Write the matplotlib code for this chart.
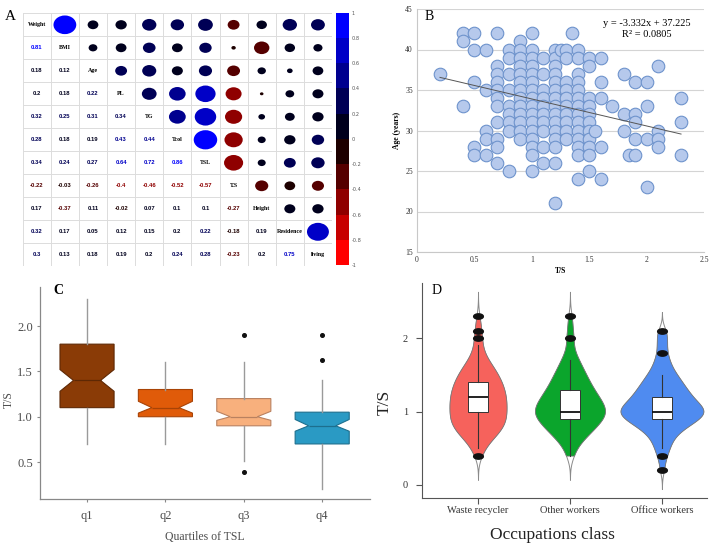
import numpy as np
import matplotlib
matplotlib.use("Agg")
import matplotlib.pyplot as plt
from matplotlib.colors import LinearSegmentedColormap, ListedColormap, BoundaryNorm
from matplotlib.cm import ScalarMappable
from matplotlib.patches import Ellipse
from matplotlib import mlab

SERIF = ["Liberation Serif", "DejaVu Serif"]
SANS = ["Liberation Sans", "DejaVu Sans"]

# ---------------- Panel A data ----------------
corr_vars = ["Weight", "BMI", "Age", "PL", "TG", "Tcol", "TSL", "T.S", "Height", "Residence", "living"]
corr_lower = [
    [],
    [0.81],
    [0.18, 0.12],
    [0.2, 0.18, 0.22],
    [0.32, 0.25, 0.31, 0.34],
    [0.28, 0.18, 0.19, 0.43, 0.44],
    [0.34, 0.24, 0.27, 0.64, 0.72, 0.86],
    [-0.22, -0.03, -0.26, -0.4, -0.46, -0.52, -0.57],
    [0.17, -0.37, 0.11, -0.02, 0.07, 0.1, 0.1, -0.27],
    [0.32, 0.17, 0.05, 0.12, 0.15, 0.2, 0.22, -0.18, 0.19],
    [0.3, 0.13, 0.18, 0.19, 0.2, 0.24, 0.28, -0.23, 0.2, 0.75],
]
cbar_ticks = [-1, -0.8, -0.6, -0.4, -0.2, 0, 0.2, 0.4, 0.6, 0.8, 1]

# ---------------- Panel B data ----------------
b_ts = [0.2, 0.4, 0.5, 0.6, 0.7, 0.8, 0.9, 1.0, 1.1, 1.2, 1.25, 1.3, 1.35, 1.4,
        1.5, 1.55, 1.6, 1.7, 1.8, 1.85, 1.9, 2.0, 2.1, 2.3]
b_ages = [
    [37],
    [42, 41, 33],
    [42, 40, 36, 28, 27],
    [40, 35, 30, 29, 27],
    [42, 38, 37, 36, 35, 34, 33, 31, 29, 28, 26],
    [40, 39, 37, 35, 33, 32, 31, 30, 25],
    [41, 40, 39, 38, 37, 36, 35, 34, 33, 32, 31, 30, 29],
    [42, 40, 39, 38, 37, 36, 35, 34, 33, 32, 31, 30, 29, 28, 27, 25],
    [39, 37, 35, 34, 33, 32, 31, 30, 28, 26],
    [40, 39, 38, 37, 36, 35, 34, 33, 32, 31, 30, 29, 28, 26, 21],
    [40],
    [40, 39, 36, 35, 34, 33, 32, 31, 30, 29],
    [42],
    [40, 39, 37, 36, 35, 34, 33, 32, 31, 30, 29, 28, 27, 24],
    [39, 38, 34, 33, 32, 31, 30, 29, 28, 27, 25],
    [30],
    [39, 36, 34, 28, 24],
    [33],
    [37, 32, 30],
    [27],
    [36, 32, 31, 29, 27],
    [36, 33, 29, 23],
    [38, 30, 29, 28],
    [34, 31, 27],
]
trend_slope = -3.332
trend_intercept = 37.225
trend_r2 = 0.0805

# ---------------- Panel C data ----------------
c_labels = ["q1", "q2", "q3", "q4"]
c_whislo = [0.70, 0.70, 0.51, 0.20]
c_q1 = [1.10, 1.00, 0.90, 0.70]
c_med = [1.40, 1.10, 1.00, 0.90]
c_q3 = [1.80, 1.30, 1.20, 1.05]
c_whishi = [2.30, 1.60, 1.60, 1.40]
c_cilo = [1.28, 1.04, 0.96, 0.84]
c_cihi = [1.52, 1.17, 1.06, 0.97]
c_fliers = [[], [], [1.9, 0.39], [1.9, 1.62]]

# ---------------- Panel D data ----------------
d_labels = ["Waste recycler", "Other workers", "Office workers"]
d_levels = [0.2, 0.3, 0.4, 0.5, 0.6, 0.7, 0.8, 0.9, 1.0, 1.1, 1.2, 1.3, 1.4, 1.5,
            1.6, 1.7, 1.8, 1.9, 2.0, 2.1, 2.2, 2.3]
d_counts_waste = [0, 0, 2, 3, 6, 10, 13, 14, 14, 14, 14, 13, 12, 10, 8, 5, 3, 2, 2, 2, 1, 1]
d_counts_other = [0, 0, 2, 2, 5, 8, 11, 14, 16, 14, 12, 10, 8, 7, 5, 4, 2, 1, 2, 1, 1, 1]
d_counts_office = [1, 1, 2, 3, 4, 6, 10, 15, 18, 15, 12, 10, 8, 6, 4, 3, 2, 2, 2, 2, 0, 0]
d_whislo = [0.5, 0.4, 0.5]
d_q1 = [1.0, 0.9, 0.9]
d_med = [1.2, 1.0, 1.0]
d_q3 = [1.4, 1.3, 1.2]
d_whishi = [1.9, 1.7, 1.5]
d_fliers = [[0.4, 2.0, 2.1, 2.3], [2.0, 2.3], [0.2, 0.4, 1.8, 2.1]]

# ---------------- figure ----------------
W, H = 715, 547
fig = plt.figure(figsize=(W / 100, H / 100), dpi=100)
fig.patch.set_facecolor("white")


def ax_px(l, t, r, b):
    return fig.add_axes([l / W, 1 - b / H, (r - l) / W, (b - t) / H])


# ===== Panel A =====
axA = ax_px(22.7, 13.3, 332, 266.3)
n = len(corr_vars)
base = LinearSegmentedColormap.from_list("rkb", ["#ff0000", "#000000", "#0000ff"])
cmapA = ListedColormap(base(np.linspace(0, 1, 10)))
normA = BoundaryNorm(np.linspace(-1, 1, 11), 10)

axA.set_xlim(-0.5, n - 0.5)
axA.set_ylim(n - 0.5, -0.5)
for k in range(n + 1):
    axA.axhline(k - 0.5, color="#dcdcdc", lw=0.7, zorder=1)
    axA.axvline(k - 0.5, color="#dcdcdc", lw=0.7, zorder=1)
for i in range(n):
    axA.text(i, i, corr_vars[i], ha="center", va="center", fontsize=4.3,
             fontweight="bold", family=SERIF, color="black")
    for j in range(i):
        r = corr_lower[i][j]
        col = cmapA(normA(r))
        axA.text(j, i, f"{r:g}", ha="center", va="center", fontsize=4.2,
                 fontweight="bold", family=SANS, color=col)
        d = 0.9 * np.sqrt(abs(r))
        axA.add_patch(Ellipse((i, j), d, d, facecolor=col, edgecolor="none", zorder=2))
axA.set_xticks([])
axA.set_yticks([])
for s in axA.spines.values():
    s.set_visible(False)

caxA = ax_px(336, 12.7, 349, 265)
cb = fig.colorbar(ScalarMappable(norm=normA, cmap=cmapA), cax=caxA, ticks=cbar_ticks)
cb.outline.set_visible(False)
cb.ax.set_yticklabels([f"{t:g}" for t in cbar_ticks])
cb.ax.tick_params(length=0, labelsize=3.6, labelcolor="#555555", pad=2)
fig.text(10 / W, 1 - 16 / H, "A", fontsize=11, family=SERIF, ha="center", va="center")

# ===== Panel B =====
axB = ax_px(417, 9, 704, 252)
bx = [x for x, ages in zip(b_ts, b_ages) for _ in ages]
by = [a for ages in b_ages for a in ages]
axB.scatter(bx, by, s=82, facecolor="#b6c9ec", edgecolor="#6e93cc", linewidth=0.8, zorder=3)
xl = np.array([min(bx), max(bx)])
axB.plot(xl, trend_slope * xl + trend_intercept, color="#555555", lw=0.7, zorder=4)
axB.set_xlim(0, 2.5)
axB.set_ylim(15, 45)
axB.set_yticks([15, 20, 25, 30, 35, 40, 45])
axB.set_xticks([0, 0.5, 1, 1.5, 2, 2.5])
axB.set_xticklabels(["0", "0.5", "1", "1.5", "2", "2.5"])
axB.yaxis.grid(True, color="#d4d4d4", lw=0.8)
axB.set_axisbelow(True)
for s in ["top", "right"]:
    axB.spines[s].set_visible(False)
for s in ["left", "bottom"]:
    axB.spines[s].set_color("#c8c8c8")
    axB.spines[s].set_linewidth(0.8)
axB.tick_params(length=0, labelsize=5.5, labelcolor="#333333", pad=3)
for lab in axB.get_xticklabels() + axB.get_yticklabels():
    lab.set_family(SERIF)
axB.text(0.80, 0.942, f"y = {trend_slope}x + {trend_intercept}", transform=axB.transAxes,
         ha="center", va="center", fontsize=7.5, family=SERIF)
axB.text(0.80, 0.897, f"R² = {trend_r2}", transform=axB.transAxes,
         ha="center", va="center", fontsize=7.5, family=SERIF)
axB.text(0.042, 0.971, "B", transform=axB.transAxes, ha="center", va="center",
         fontsize=10, family=SERIF)
fig.text(397 / W, 1 - 130 / H, "Age (years)", rotation=90, ha="center", va="center",
         fontsize=5.5, fontweight="bold", family=SERIF)
fig.text(561 / W, 1 - 271 / H, "T/S", ha="center", va="center",
         fontsize=5.5, fontweight="bold", family=SERIF)

# ===== Panel C =====
axC = ax_px(40, 287, 370, 499)
c_colors = ["#8a3b06", "#e05b09", "#f8b07d", "#2a9ac4"]
c_edges = ["#5e2804", "#a84306", "#b98160", "#1d6f8e"]
statsC = []
for k in range(4):
    statsC.append(dict(label=c_labels[k], med=c_med[k], q1=c_q1[k], q3=c_q3[k],
                       whislo=c_whislo[k], whishi=c_whishi[k], cilo=c_cilo[k],
                       cihi=c_cihi[k], fliers=c_fliers[k]))
bpC = axC.bxp(statsC, positions=[1, 2, 3, 4], widths=0.69, shownotches=True,
              patch_artist=True, showcaps=False,
              whiskerprops=dict(color="#9a9a9a", lw=1.0),
              medianprops=dict(color="#3a1a05", lw=0.9),
              flierprops=dict(marker="o", markersize=2.6, markerfacecolor="#111111",
                              markeredgecolor="#111111"))
for k, b in enumerate(bpC["boxes"]):
    b.set_facecolor(c_colors[k])
    b.set_edgecolor(c_edges[k])
    b.set_linewidth(0.8)
for k, m in enumerate(bpC["medians"]):
    m.set_color(c_edges[k])
axC.set_xlim(0.4, 4.61)
axC.set_ylim(0.093, 2.43)
axC.set_yticks([0.5, 1.0, 1.5, 2.0])
axC.set_yticklabels(["0.5", "1.0", "1.5", "2.0"])
for s in ["top", "right"]:
    axC.spines[s].set_visible(False)
for s in ["left", "bottom"]:
    axC.spines[s].set_color("#888888")
    axC.spines[s].set_linewidth(0.9)
axC.tick_params(axis="y", length=2, color="#888888", labelsize=9, labelcolor="#4d4d4d", pad=3)
axC.tick_params(axis="x", length=2, color="#888888", labelsize=9, labelcolor="#4d4d4d", pad=6)
for lab in axC.get_xticklabels() + axC.get_yticklabels():
    lab.set_family(SERIF)
axC.text(58 / W, 1 - 290 / H, "C", transform=fig.transFigure, ha="center", va="center",
         fontsize=10, fontweight="bold", family=SERIF)
fig.text(9 / W, 1 - 400 / H, "T/S", rotation=90, ha="center", va="center",
         fontsize=8.5, family=SERIF, color="#4d4d4d")
fig.text(205 / W, 1 - 537 / H, "Quartiles of TSL", ha="center", va="center",
         fontsize=8.5, family=SERIF, color="#4d4d4d")

# ===== Panel D =====
axD = ax_px(422, 283, 707, 498)
d_colors = ["#f6625c", "#0ba52c", "#4f8bf0"]
d_widths = [0.62, 0.76, 0.90]
d_bw = [0.11, 0.11, 0.085]
d_counts = [d_counts_waste, d_counts_other, d_counts_office]
positions = [1, 2, 3]


def violin_stats(data, bw, cut):
    data = np.asarray(data)
    kde = mlab.GaussianKDE(data, bw_method=bw / np.std(data, ddof=1))
    coords = np.linspace(data.min() - cut * bw, data.max() + cut * bw, 300)
    return dict(coords=coords, vals=kde.evaluate(coords), mean=data.mean(),
                median=np.median(data), min=data.min(), max=data.max(), quantiles=[])


samples = [np.repeat(d_levels, c) for c in d_counts]
full = [violin_stats(s, bw, 3) for s, bw in zip(samples, d_bw)]
trim = [violin_stats(s, bw, 0) for s, bw in zip(samples, d_bw)]
vpF = axD.violin(full, positions=positions, widths=d_widths, showextrema=False)
for b in vpF["bodies"]:
    b.set_facecolor("white")
    b.set_edgecolor("#8a8a8a")
    b.set_linewidth(0.7)
    b.set_alpha(1)
    b.set_zorder(1)
vpT = axD.violin(trim, positions=positions, widths=d_widths, showextrema=False)
for k, b in enumerate(vpT["bodies"]):
    b.set_facecolor(d_colors[k])
    b.set_edgecolor("#777777")
    b.set_linewidth(0.5)
    b.set_alpha(1)
    b.set_zorder(2)

# horizontal oval marker for the outliers
t = np.linspace(0, 2 * np.pi, 40)
oval = np.column_stack([1.0 * np.cos(t), 0.55 * np.sin(t)])

statsD = []
for k in range(3):
    statsD.append(dict(label=d_labels[k], med=d_med[k], q1=d_q1[k], q3=d_q3[k],
                       whislo=d_whislo[k], whishi=d_whishi[k], fliers=d_fliers[k]))
bpD = axD.bxp(statsD, positions=positions, widths=0.22, patch_artist=True, showcaps=False,
              boxprops=dict(facecolor="white", edgecolor="#333333", lw=0.7),
              whiskerprops=dict(color="#333333", lw=0.8),
              medianprops=dict(color="#111111", lw=1.3),
              flierprops=dict(marker=oval, markersize=7, markerfacecolor="#111111",
                              markeredgecolor="#111111"))
for key in ["boxes", "whiskers", "medians", "fliers"]:
    for a in bpD[key]:
        a.set_zorder(3)
axD.set_xlim(0.391, 3.49)
axD.set_ylim(-0.177, 2.75)
axD.set_yticks([0, 1, 2])
for s in ["top", "right"]:
    axD.spines[s].set_visible(False)
for s in ["left", "bottom"]:
    axD.spines[s].set_color("#555555")
    axD.spines[s].set_linewidth(0.8)
axD.tick_params(axis="y", length=4, color="#555555", labelsize=7.5, labelcolor="#333333", pad=6)
axD.tick_params(axis="x", length=4, color="#555555", labelsize=7.5, labelcolor="#333333", pad=1.5)
for lab in axD.get_xticklabels() + axD.get_yticklabels():
    lab.set_family(SERIF)
fig.text(437 / W, 1 - 290 / H, "D", ha="center", va="center", fontsize=10, family=SERIF)
fig.text(385 / W, 1 - 402 / H, "T/S", rotation=90, ha="center", va="center",
         fontsize=12.5, family=SERIF, color="#222222")
fig.text(552 / W, 1 - 535 / H, "Occupations class", ha="center", va="center",
         fontsize=12.5, family=SERIF, color="#222222")

fig.savefig("out.png", dpi=100, facecolor="white")
